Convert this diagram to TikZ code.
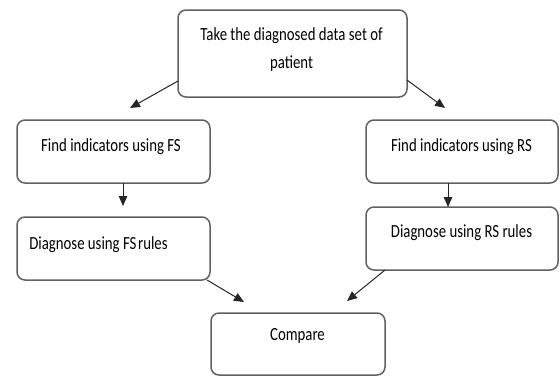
\documentclass[tikz,border=0pt]{standalone}
\usepackage{fontspec}
\usepackage{graphicx}
\setmainfont{Carlito}
\usetikzlibrary{arrows.meta}
% narrow, tall lettering used in every box
\newcommand{\narrowtext}[1]{\scalebox{0.8}[1]{#1}}
\begin{document}
\begin{tikzpicture}[x=1pt,y=-1pt,
  stepbox/.style={draw=black!62,line width=1.5pt,rounded corners=8pt},
  lbl/.style={font=\fontsize{18.5}{22}\selectfont,inner sep=0pt,anchor=base,text=black},
  link/.style={draw=black!85,line width=1pt,-{Triangle[length=10pt,width=8.5pt]}}]
\useasboundingbox (0,0) rectangle (560,376);
% process boxes
\draw[stepbox] (178,10) rectangle (407,97);
\draw[stepbox] (17,120) rectangle (210,183);
\draw[stepbox] (17,217) rectangle (210,280);
\draw[stepbox] (366,120) rectangle (558,183);
\draw[stepbox] (366,207) rectangle (558,270);
\draw[stepbox] (211,313) rectangle (385,375);
% box anchors
\coordinate (topL) at (178,81);
\coordinate (topR) at (407,80);
\coordinate (fsB) at (123,183);
\coordinate (rsB) at (448,183);
\coordinate (fsdB) at (207,280);
\coordinate (rsdB) at (385,270);
% labels (placed on their baselines)
\node[lbl] (t1) at (291.5,40) {\narrowtext{Take the diagnosed data set of}};
\node[lbl] (t2) at (291.5,68) {\narrowtext{patient}};
\node[lbl] (fs) at (111,151) {\narrowtext{Find indicators using FS}};
\node[lbl] (fsd) at (98.5,249) {\narrowtext{Diagnose using FS\hspace{-2pt} rules}};
\node[lbl] (rs) at (461.5,151) {\narrowtext{Find indicators using RS}};
\node[lbl] (rsd) at (461.5,237) {\narrowtext{Diagnose using RS rules}};
\node[lbl] (cmp) at (297.5,340) {\narrowtext{Compare}};
% arrow targets
\coordinate (fsT) at (130,108);
\coordinate (rsT) at (445,108);
\coordinate (fsdT) at (123,206);
\coordinate (rsdT) at (448,207);
\coordinate (cmpL) at (244,302);
\coordinate (cmpR) at (347,301);
% connectors
\draw[link] (topL) -- (fsT);
\draw[link] (topR) -- (rsT);
\draw[link] (fsB) -- (fsdT);
\draw[link] (rsB) -- (rsdT);
\draw[link] (fsdB) -- (cmpL);
\draw[link] (rsdB) -- (cmpR);
\end{tikzpicture}
\end{document}
